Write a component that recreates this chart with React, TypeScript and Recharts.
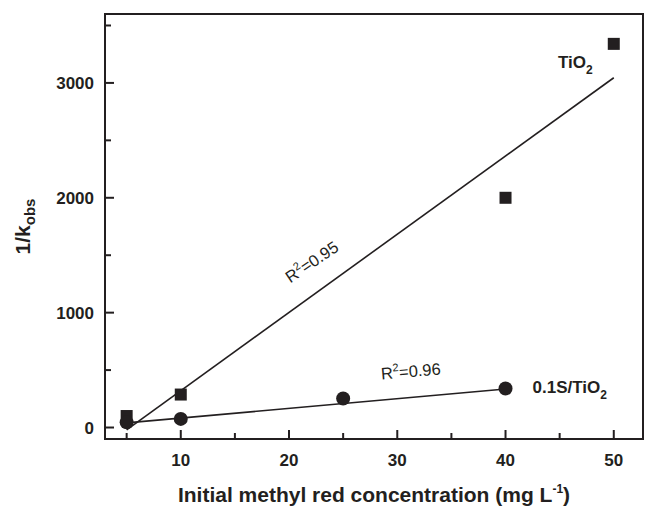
import React from 'react'
import {
  ComposedChart,
  Line,
  Scatter,
  XAxis,
  YAxis,
  ReferenceArea,
  ReferenceDot
} from 'recharts'

// measured points
const tio2X = [5, 10, 40, 50]
const tio2Y = [100, 287, 2000, 3340]
const sTio2X = [5, 10, 25, 40]
const sTio2Y = [45, 75, 252, 340]

const tio2FitX = [5, 50]
const tio2FitY = [-20, 3045]
const sTio2FitX = [5, 40]
const sTio2FitY = [40, 335]

const xTicks = [5, 10, 15, 20, 25, 30, 35, 40, 45, 50]
const xLabels = [10, 20, 30, 40, 50]
const yTicks = [0, 500, 1000, 1500, 2000, 2500, 3000, 3500]
const yLabels = [0, 1000, 2000, 3000]

const ink = '#231f20'
const font = '"Liberation Sans", Arial, sans-serif'

const zip = (xs: number[], ys: number[]) => xs.map((x, i) => ({ x, y: ys[i] }))

const tio2 = zip(tio2X, tio2Y)
const sTio2 = zip(sTio2X, sTio2Y)
const tio2Fit = zip(tio2FitX, tio2FitY)
const sTio2Fit = zip(sTio2FitX, sTio2FitY)

const XTick = ({ x, y, payload }: any) => {
  const major = xLabels.includes(payload.value)
  return (
    <g>
      <line x1={x} y1={y} x2={x} y2={y - (major ? 9 : 6)} stroke={ink} strokeWidth={2} />
      {major && (
        <text x={x} y={y + 27} textAnchor="middle" fontFamily={font} fontWeight="bold" fontSize={17} fill={ink}>
          {payload.value}
        </text>
      )}
    </g>
  )
}

const YTick = ({ x, y, payload }: any) => {
  const major = yLabels.includes(payload.value)
  return (
    <g>
      <line x1={x} y1={y} x2={x + (major ? 9 : 6)} y2={y} stroke={ink} strokeWidth={2} />
      {major && (
        <text x={x - 11} y={y + 6} textAnchor="end" fontFamily={font} fontWeight="bold" fontSize={17} fill={ink}>
          {payload.value}
        </text>
      )}
    </g>
  )
}

const XTitle = ({ viewBox }: any) => (
  <text
    x={viewBox.x + viewBox.width / 2}
    y={viewBox.y + 63}
    textAnchor="middle"
    fontFamily={font}
    fontWeight="bold"
    fontSize={21}
    fill={ink}
  >
    Initial methyl red concentration (mg L
    <tspan dy={-9} fontSize={12}>-1</tspan>
    <tspan dy={9}>)</tspan>
  </text>
)

const YTitle = ({ viewBox }: any) => {
  const cx = 30
  const cy = viewBox.y + viewBox.height / 2
  return (
    <text
      x={cx}
      y={cy}
      transform={`rotate(-90 ${cx} ${cy})`}
      textAnchor="middle"
      fontFamily={font}
      fontWeight="bold"
      fontSize={21}
      fill={ink}
    >
      1/k
      <tspan dy={5} fontSize={15}>obs</tspan>
    </text>
  )
}

const Square = ({ cx, cy }: any) => <rect x={cx - 6} y={cy - 6} width={12} height={12} fill={ink} />
const Dot = ({ cx, cy }: any) => <circle cx={cx} cy={cy} r={7} fill={ink} />

const boldLabel = (main: string) => ({ cx, cy }: any) => (
  <text x={cx} y={cy} fontFamily={font} fontWeight="bold" fontSize={17} fill={ink}>
    {main}
    <tspan dy={6} fontSize={12}>2</tspan>
  </text>
)

const rSquared = (value: string, angle: number) => ({ cx, cy }: any) => (
  <text
    x={cx}
    y={cy}
    transform={`rotate(${angle} ${cx} ${cy})`}
    textAnchor="middle"
    fontFamily={font}
    fontSize={16.5}
    fill={ink}
  >
    R<tspan dy={-7} fontSize={11}>2</tspan>
    <tspan dy={7}>={value}</tspan>
  </text>
)

export default function App() {
  return (
    <div style={{ position: 'absolute', left: 0, top: 0, background: '#fff' }}>
      <ComposedChart width={646} height={506} margin={{ top: 14, right: 3, bottom: 0, left: 0 }}>
        <XAxis
          type="number"
          dataKey="x"
          domain={[3, 52.7]}
          ticks={xTicks}
          interval={0}
          allowDataOverflow
          height={67}
          tickSize={0}
          tickMargin={0}
          tickLine={false}
          axisLine={{ stroke: ink, strokeWidth: 2 }}
          tick={<XTick />}
          label={(p: any) => <XTitle {...p} />}
        />
        <YAxis
          type="number"
          dataKey="y"
          domain={[-100, 3600]}
          ticks={yTicks}
          interval={0}
          allowDataOverflow
          width={105}
          tickSize={0}
          tickMargin={0}
          tickLine={false}
          axisLine={{ stroke: ink, strokeWidth: 2 }}
          tick={<YTick />}
          label={(p: any) => <YTitle {...p} />}
        />
        <ReferenceArea x1={3} x2={52.7} y1={-100} y2={3600} fill="none" stroke={ink} strokeWidth={2} />
        <Line data={tio2Fit} dataKey="y" type="linear" stroke={ink} strokeWidth={1.6} dot={false} isAnimationActive={false} />
        <Line data={sTio2Fit} dataKey="y" type="linear" stroke={ink} strokeWidth={1.6} dot={false} isAnimationActive={false} />
        <Scatter data={tio2} dataKey="y" shape={<Square />} isAnimationActive={false} />
        <Scatter data={sTio2} dataKey="y" shape={<Dot />} isAnimationActive={false} />
        <ReferenceDot x={44.85} y={3130} r={0} shape={boldLabel('TiO')} />
        <ReferenceDot x={42.5} y={300} r={0} shape={boldLabel('0.1S/TiO')} />
        <ReferenceDot x={22.4} y={1400} r={0} shape={rSquared('0.95', -34)} />
        <ReferenceDot x={31.3} y={440} r={0} shape={rSquared('0.96', -5)} />
      </ComposedChart>
    </div>
  )
}
